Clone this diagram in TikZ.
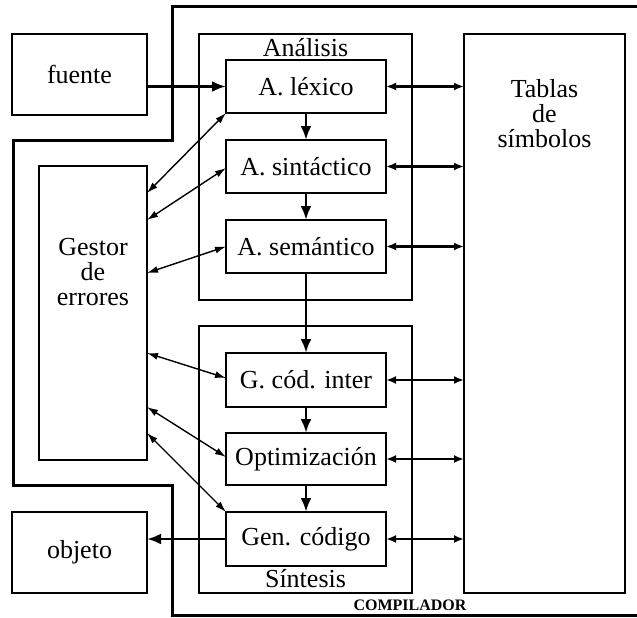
\documentclass[tikz,border=0pt]{standalone}
\usepackage{fontspec}
\setmainfont{Liberation Serif}
\usetikzlibrary{arrows.meta,calc}
\begin{document}
\begin{tikzpicture}[x=1pt,y=-1pt,
  txt/.style={font=\fontsize{26}{25}\selectfont},
  bigbox/.style={draw,line width=2.8pt,inner sep=0pt,outer sep=0pt,txt},
  stagebox/.style={bigbox,minimum width=160,minimum height=53},
  groupbox/.style={draw,line width=1.7pt,inner sep=0pt,outer sep=0pt},
  outline/.style={line width=3pt,line join=miter},
  farrow/.style={line width=2.8pt,-{Latex[length=14pt,width=11pt]}},
  tarrow/.style={line width=2.2pt,{Latex[length=10pt,width=8pt]}-{Latex[length=10pt,width=8pt]}},
  garrow/.style={line width=1.4pt,{Latex[length=11pt,width=7pt]}-{Latex[length=11pt,width=7pt]}}
]
\useasboundingbox (0,0) rectangle (637,618);
% compiler outline
\draw[outline] (637,7) -- (172,7) -- (172,140) -- (13,140) -- (13,485)
  -- (172,485) -- (172,615) -- (637,615);
\node[anchor=base,font=\fontsize{16}{18}\selectfont\bfseries] (comp) at (410,610) {COMPILADOR};
% outer boxes
\node[bigbox,minimum width=135,minimum height=81] (fuente) at (79.5,74.5) {fuente};
\node[bigbox,minimum width=135,minimum height=81] (objeto) at (79.5,552.5) {objeto};
\node[groupbox,line width=1.9pt,minimum width=108,minimum height=294] (gestor) at (93,313) {};
\node[txt,align=center] (gestortxt) at (93,272) {Gestor\\de\\errores};
\node[bigbox,minimum width=161,minimum height=559] (tablas) at (544.5,313.5) {};
\node[txt,align=center] (tablastxt) at (544.5,114) {Tablas\\de\\símbolos};
% groups
\node[groupbox,minimum width=213,minimum height=266] (analisis) at (305.5,167) {};
\node[txt,anchor=base] (analisistxt) at (305.5,57) {Análisis};
\node[groupbox,minimum width=213,minimum height=267] (sintesis) at (305.5,459.5) {};
\node[txt,anchor=base] (sintesistxt) at (305.5,587) {Síntesis};
% stages
\node[stagebox] (lex) at (306,86.5) {A. léxico};
\node[stagebox] (sin) at (306,166.5) {A. sintáctico};
\node[stagebox] (sem) at (306,246.5) {A. semántico};
\node[stagebox,minimum height=54] (gci) at (306,380) {G. cód. inter};
\node[stagebox,minimum height=52] (opt) at (306,459) {Optimización};
\node[stagebox,minimum height=54] (gen) at (306,539) {Gen. código};
% flow arrows
\draw[farrow] (fuente.east |- lex.west) -- (lex.west);
\draw[farrow] (lex.south) -- (sin.north);
\draw[farrow] (sin.south) -- (sem.north);
\draw[farrow] (sem.south) -- (gci.north);
\draw[farrow] (gci.south) -- (opt.north);
\draw[farrow] (opt.south) -- (gen.north);
\draw[farrow] (gen.west) -- (objeto.east |- gen.west);
% symbol table arrows
\foreach \n in {lex,sin,sem,gci,opt,gen}
  \draw[tarrow] (\n.east) -- (\n.east -| tablas.west);
% error manager arrows
\draw[garrow] ($(gestor.north east)+(0,27)$) -- (lex.south west);
\draw[garrow] ($(gestor.north east)+(0,54)$) -- ($(sin.west)+(0,1.5)$);
\draw[garrow] ($(gestor.north east)+(0,107)$) -- (sem.west);
\draw[garrow] ($(gestor.north east)+(0,187)$) -- ($(gci.west)+(0,-2)$);
\draw[garrow] ($(gestor.north east)+(0,241)$) -- ($(opt.west)+(0,-2)$);
\draw[garrow] ($(gestor.north east)+(0,267)$) -- (gen.north west);
\end{tikzpicture}
\end{document}
